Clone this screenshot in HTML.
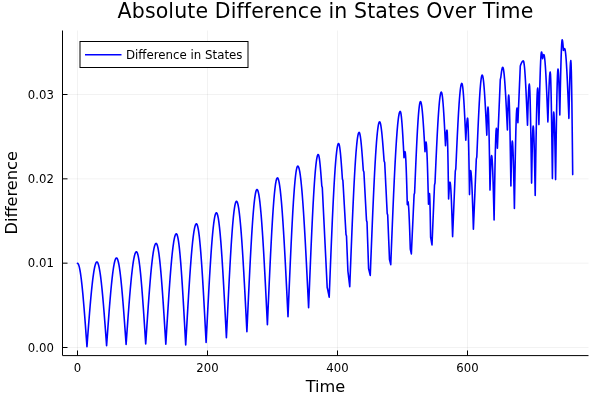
<!DOCTYPE html>
<html><head><meta charset="utf-8"><style>
html,body{margin:0;padding:0;background:#fff;}
svg{display:block;}
text{font-family:'DejaVu Sans','Liberation Sans',sans-serif;fill:#000;}
</style></head><body>
<svg style="will-change:transform" width="600" height="400" viewBox="0 0 600 400">
<rect width="600" height="400" fill="#fff"/>
<g stroke="#000" stroke-opacity="0.1" stroke-width="0.5" fill="none">
<line x1="77.5" y1="30.5" x2="77.5" y2="355.5"/>
<line x1="207.5" y1="30.5" x2="207.5" y2="355.5"/>
<line x1="337.5" y1="30.5" x2="337.5" y2="355.5"/>
<line x1="467.5" y1="30.5" x2="467.5" y2="355.5"/>
<line x1="62.5" y1="347.5" x2="588.5" y2="347.5"/>
<line x1="62.5" y1="263.17" x2="588.5" y2="263.17"/>
<line x1="62.5" y1="178.83" x2="588.5" y2="178.83"/>
<line x1="62.5" y1="94.5" x2="588.5" y2="94.5"/>
</g>
<g stroke="#000" stroke-width="1" fill="none">
<line x1="62.5" y1="30.5" x2="62.5" y2="355.5"/>
<line x1="62.5" y1="355.6" x2="588.5" y2="355.6"/>
<line x1="77.5" y1="355.5" x2="77.5" y2="350.5"/>
<line x1="207.5" y1="355.5" x2="207.5" y2="350.5"/>
<line x1="337.5" y1="355.5" x2="337.5" y2="350.5"/>
<line x1="467.5" y1="355.5" x2="467.5" y2="350.5"/>
<line x1="62.5" y1="347.5" x2="67.5" y2="347.5"/>
<line x1="62.5" y1="263.17" x2="67.5" y2="263.17"/>
<line x1="62.5" y1="178.83" x2="67.5" y2="178.83"/>
<line x1="62.5" y1="94.5" x2="67.5" y2="94.5"/>
</g>
<path d="M77.50,263.30 L77.81,263.41 L78.13,263.76 L78.44,264.33 L78.76,265.12 L79.08,266.14 L79.39,267.38 L79.70,268.83 L80.02,270.50 L80.34,272.38 L80.65,274.46 L80.97,276.74 L81.28,279.21 L81.59,281.86 L81.91,284.70 L82.22,287.70 L82.54,290.86 L82.86,294.18 L83.17,297.64 L83.48,301.23 L83.80,304.95 L84.12,308.78 L84.43,312.72 L84.75,316.75 L85.06,320.86 L85.38,325.04 L85.69,329.28 L86.00,333.57 L86.32,337.89 L86.64,342.24 L86.95,346.60 L87.27,342.32 L87.59,338.04 L87.91,333.79 L88.23,329.57 L88.55,325.39 L88.88,321.27 L89.20,317.22 L89.52,313.24 L89.84,309.34 L90.16,305.54 L90.48,301.85 L90.80,298.27 L91.12,294.82 L91.44,291.49 L91.76,288.31 L92.09,285.28 L92.41,282.41 L92.73,279.70 L93.05,277.16 L93.37,274.80 L93.69,272.63 L94.01,270.65 L94.33,268.86 L94.65,267.27 L94.97,265.88 L95.30,264.70 L95.62,263.73 L95.94,262.98 L96.26,262.43 L96.58,262.11 L96.90,262.00 L97.21,262.11 L97.53,262.43 L97.84,262.96 L98.15,263.71 L98.46,264.67 L98.78,265.83 L99.09,267.20 L99.40,268.78 L99.72,270.54 L100.03,272.50 L100.34,274.65 L100.65,276.98 L100.97,279.49 L101.28,282.17 L101.59,285.01 L101.91,288.00 L102.22,291.15 L102.53,294.43 L102.85,297.84 L103.16,301.38 L103.47,305.03 L103.78,308.78 L104.10,312.63 L104.41,316.57 L104.72,320.57 L105.04,324.65 L105.35,328.77 L105.66,332.94 L105.97,337.14 L106.29,341.37 L106.60,345.60 L106.92,341.16 L107.24,336.74 L107.56,332.33 L107.88,327.97 L108.20,323.64 L108.52,319.38 L108.84,315.18 L109.15,311.05 L109.47,307.02 L109.79,303.09 L110.11,299.26 L110.43,295.56 L110.75,291.98 L111.07,288.54 L111.39,285.25 L111.71,282.11 L112.03,279.13 L112.35,276.33 L112.67,273.70 L112.99,271.26 L113.31,269.01 L113.63,266.95 L113.95,265.10 L114.26,263.45 L114.58,262.02 L114.90,260.80 L115.22,259.79 L115.54,259.01 L115.86,258.45 L116.18,258.11 L116.50,258.00 L116.82,258.12 L117.14,258.47 L117.46,259.06 L117.78,259.89 L118.10,260.94 L118.42,262.23 L118.74,263.74 L119.06,265.47 L119.38,267.42 L119.70,269.58 L120.02,271.94 L120.34,274.50 L120.66,277.25 L120.98,280.19 L121.30,283.31 L121.62,286.59 L121.94,290.03 L122.26,293.62 L122.58,297.34 L122.90,301.20 L123.22,305.18 L123.54,309.26 L123.86,313.44 L124.18,317.70 L124.50,322.04 L124.82,326.44 L125.14,330.88 L125.46,335.37 L125.78,339.88 L126.10,344.40 L126.42,339.86 L126.74,335.32 L127.07,330.81 L127.39,326.33 L127.71,321.90 L128.03,317.52 L128.35,313.20 L128.68,308.96 L129.00,304.81 L129.32,300.75 L129.64,296.79 L129.96,292.95 L130.28,289.24 L130.61,285.66 L130.93,282.21 L131.25,278.92 L131.57,275.79 L131.89,272.82 L132.22,270.02 L132.54,267.41 L132.86,264.97 L133.18,262.73 L133.50,260.69 L133.82,258.85 L134.15,257.21 L134.47,255.79 L134.79,254.58 L135.11,253.58 L135.43,252.80 L135.76,252.25 L136.08,251.91 L136.40,251.80 L136.72,251.94 L137.04,252.34 L137.36,253.01 L137.68,253.95 L138.00,255.16 L138.32,256.62 L138.64,258.34 L138.97,260.31 L139.29,262.53 L139.61,264.98 L139.93,267.67 L140.25,270.58 L140.57,273.70 L140.89,277.04 L141.21,280.56 L141.53,284.28 L141.85,288.16 L142.17,292.21 L142.49,296.42 L142.81,300.76 L143.13,305.23 L143.46,309.81 L143.78,314.49 L144.10,319.26 L144.42,324.10 L144.74,329.00 L145.06,333.94 L145.38,338.91 L145.70,343.90 L146.02,339.12 L146.33,334.35 L146.65,329.60 L146.96,324.88 L147.28,320.21 L147.59,315.59 L147.91,311.03 L148.22,306.55 L148.54,302.15 L148.85,297.85 L149.17,293.65 L149.48,289.57 L149.80,285.60 L150.11,281.78 L150.43,278.09 L150.74,274.55 L151.06,271.16 L151.37,267.95 L151.69,264.90 L152.00,262.04 L152.32,259.35 L152.63,256.86 L152.95,254.57 L153.26,252.48 L153.58,250.60 L153.89,248.93 L154.21,247.47 L154.52,246.23 L154.84,245.22 L155.15,244.42 L155.47,243.86 L155.78,243.51 L156.10,243.40 L156.41,243.53 L156.73,243.92 L157.04,244.56 L157.35,245.46 L157.66,246.61 L157.98,248.02 L158.29,249.67 L158.60,251.56 L158.92,253.69 L159.23,256.05 L159.54,258.64 L159.85,261.45 L160.17,264.47 L160.48,267.69 L160.79,271.11 L161.11,274.72 L161.42,278.51 L161.73,282.46 L162.05,286.57 L162.36,290.83 L162.67,295.23 L162.98,299.75 L163.30,304.39 L163.61,309.13 L163.92,313.95 L164.24,318.86 L164.55,323.83 L164.86,328.85 L165.17,333.91 L165.49,339.00 L165.80,344.10 L166.12,338.85 L166.44,333.62 L166.75,328.40 L167.07,323.23 L167.39,318.10 L167.71,313.02 L168.03,308.02 L168.35,303.11 L168.66,298.28 L168.98,293.56 L169.30,288.95 L169.62,284.47 L169.94,280.12 L170.25,275.92 L170.57,271.87 L170.89,267.98 L171.21,264.27 L171.53,260.74 L171.85,257.40 L172.16,254.25 L172.48,251.31 L172.80,248.58 L173.12,246.06 L173.44,243.77 L173.75,241.70 L174.07,239.87 L174.39,238.27 L174.71,236.91 L175.03,235.79 L175.35,234.92 L175.66,234.30 L175.98,233.92 L176.30,233.80 L176.61,233.95 L176.93,234.41 L177.24,235.17 L177.55,236.23 L177.87,237.59 L178.18,239.24 L178.49,241.18 L178.81,243.41 L179.12,245.91 L179.43,248.68 L179.75,251.72 L180.06,255.02 L180.37,258.56 L180.69,262.34 L181.00,266.34 L181.31,270.56 L181.63,274.98 L181.94,279.60 L182.25,284.39 L182.57,289.35 L182.88,294.46 L183.19,299.71 L183.51,305.09 L183.82,310.57 L184.13,316.15 L184.45,321.80 L184.76,327.52 L185.07,333.29 L185.39,339.09 L185.70,344.90 L186.01,339.31 L186.33,333.73 L186.64,328.17 L186.96,322.65 L187.27,317.17 L187.59,311.76 L187.90,306.42 L188.22,301.15 L188.53,295.99 L188.85,290.92 L189.16,285.97 L189.48,281.15 L189.79,276.46 L190.11,271.92 L190.42,267.54 L190.74,263.32 L191.05,259.27 L191.36,255.41 L191.68,251.73 L191.99,248.26 L192.31,244.99 L192.62,241.94 L192.94,239.10 L193.25,236.50 L193.57,234.12 L193.88,231.98 L194.20,230.08 L194.51,228.42 L194.83,227.02 L195.14,225.86 L195.46,224.96 L195.77,224.32 L196.09,223.93 L196.40,223.80 L196.71,223.95 L197.03,224.41 L197.34,225.17 L197.65,226.23 L197.96,227.59 L198.28,229.24 L198.59,231.18 L198.90,233.41 L199.22,235.92 L199.53,238.70 L199.84,241.75 L200.15,245.06 L200.47,248.61 L200.78,252.41 L201.09,256.44 L201.41,260.69 L201.72,265.15 L202.03,269.80 L202.35,274.65 L202.66,279.66 L202.97,284.84 L203.28,290.17 L203.60,295.63 L203.91,301.21 L204.22,306.90 L204.54,312.67 L204.85,318.53 L205.16,324.44 L205.47,330.40 L205.79,336.39 L206.10,342.40 L206.42,336.04 L206.74,329.70 L207.07,323.38 L207.39,317.12 L207.71,310.91 L208.03,304.78 L208.35,298.74 L208.68,292.80 L209.00,286.99 L209.32,281.31 L209.64,275.77 L209.96,270.40 L210.28,265.20 L210.61,260.18 L210.93,255.37 L211.25,250.76 L211.57,246.37 L211.89,242.22 L212.22,238.30 L212.54,234.64 L212.86,231.24 L213.18,228.10 L213.50,225.24 L213.82,222.67 L214.15,220.38 L214.47,218.38 L214.79,216.68 L215.11,215.29 L215.43,214.20 L215.76,213.42 L216.08,212.96 L216.40,212.80 L216.71,212.95 L217.03,213.40 L217.34,214.15 L217.65,215.20 L217.96,216.55 L218.28,218.18 L218.59,220.11 L218.90,222.32 L219.21,224.80 L219.53,227.56 L219.84,230.58 L220.15,233.87 L220.46,237.40 L220.78,241.17 L221.09,245.18 L221.40,249.41 L221.71,253.86 L222.03,258.50 L222.34,263.34 L222.65,268.35 L222.96,273.54 L223.28,278.88 L223.59,284.36 L223.90,289.96 L224.21,295.69 L224.53,301.51 L224.84,307.43 L225.15,313.41 L225.46,319.46 L225.78,325.55 L226.09,331.67 L226.40,337.80 L226.72,331.10 L227.03,324.42 L227.35,317.77 L227.66,311.17 L227.98,304.63 L228.29,298.18 L228.61,291.81 L228.93,285.56 L229.24,279.44 L229.56,273.45 L229.87,267.62 L230.19,261.96 L230.50,256.49 L230.82,251.21 L231.13,246.13 L231.45,241.28 L231.77,236.66 L232.08,232.28 L232.40,228.16 L232.71,224.30 L233.03,220.72 L233.34,217.42 L233.66,214.41 L233.97,211.69 L234.29,209.28 L234.61,207.18 L234.92,205.39 L235.24,203.92 L235.55,202.78 L235.87,201.96 L236.18,201.46 L236.50,201.30 L236.82,201.45 L237.13,201.89 L237.45,202.63 L237.76,203.65 L238.08,204.97 L238.39,206.58 L238.71,208.47 L239.02,210.63 L239.34,213.07 L239.65,215.78 L239.97,218.76 L240.28,221.98 L240.60,225.46 L240.91,229.18 L241.23,233.13 L241.54,237.30 L241.86,241.68 L242.17,246.27 L242.49,251.05 L242.80,256.02 L243.12,261.15 L243.43,266.45 L243.75,271.89 L244.06,277.47 L244.38,283.17 L244.69,288.98 L245.01,294.89 L245.32,300.88 L245.64,306.94 L245.95,313.06 L246.27,319.21 L246.58,325.40 L246.90,331.60 L247.22,324.63 L247.53,317.67 L247.85,310.75 L248.16,303.88 L248.48,297.07 L248.79,290.35 L249.11,283.73 L249.43,277.22 L249.74,270.84 L250.06,264.61 L250.37,258.55 L250.69,252.65 L251.00,246.95 L251.32,241.45 L251.63,236.17 L251.95,231.12 L252.27,226.31 L252.58,221.76 L252.90,217.46 L253.21,213.45 L253.53,209.72 L253.84,206.28 L254.16,203.14 L254.47,200.32 L254.79,197.81 L255.11,195.62 L255.42,193.76 L255.74,192.23 L256.05,191.04 L256.37,190.18 L256.68,189.67 L257.00,189.50 L257.32,189.65 L257.63,190.11 L257.95,190.88 L258.26,191.94 L258.58,193.31 L258.89,194.97 L259.21,196.93 L259.52,199.18 L259.84,201.71 L260.15,204.52 L260.47,207.60 L260.78,210.95 L261.10,214.55 L261.41,218.40 L261.73,222.50 L262.04,226.82 L262.36,231.37 L262.67,236.13 L262.99,241.09 L263.30,246.23 L263.62,251.56 L263.93,257.05 L264.25,262.69 L264.56,268.48 L264.88,274.39 L265.19,280.41 L265.51,286.54 L265.82,292.75 L266.14,299.03 L266.45,305.37 L266.77,311.76 L267.08,318.17 L267.40,324.60 L267.71,317.40 L268.02,310.22 L268.34,303.07 L268.65,295.98 L268.96,288.95 L269.27,282.02 L269.59,275.18 L269.90,268.46 L270.21,261.88 L270.52,255.45 L270.84,249.18 L271.15,243.10 L271.46,237.21 L271.77,231.53 L272.09,226.08 L272.40,220.87 L272.71,215.90 L273.02,211.20 L273.34,206.77 L273.65,202.62 L273.96,198.77 L274.27,195.22 L274.59,191.98 L274.90,189.07 L275.21,186.48 L275.52,184.22 L275.84,182.30 L276.15,180.72 L276.46,179.49 L276.77,178.61 L277.09,178.08 L277.40,177.90 L277.72,178.06 L278.04,178.53 L278.36,179.31 L278.68,180.41 L279.01,181.81 L279.33,183.52 L279.65,185.53 L279.97,187.84 L280.29,190.43 L280.61,193.32 L280.93,196.48 L281.25,199.92 L281.58,203.62 L281.90,207.57 L282.22,211.78 L282.54,216.22 L282.86,220.89 L283.18,225.77 L283.50,230.86 L283.82,236.15 L284.15,241.61 L284.47,247.25 L284.79,253.04 L285.11,258.98 L285.43,265.05 L285.75,271.24 L286.07,277.52 L286.39,283.90 L286.72,290.35 L287.04,296.86 L287.36,303.42 L287.68,310.00 L288.00,316.60 L288.32,308.98 L288.63,301.37 L288.95,293.81 L289.26,286.30 L289.58,278.88 L289.90,271.55 L290.21,264.33 L290.53,257.25 L290.85,250.32 L291.16,243.56 L291.48,236.99 L291.79,230.62 L292.11,224.48 L292.43,218.57 L292.74,212.91 L293.06,207.52 L293.37,202.41 L293.69,197.59 L294.01,193.08 L294.32,188.88 L294.64,185.01 L294.95,181.48 L295.27,178.30 L295.59,175.47 L295.90,173.00 L296.22,170.90 L296.54,169.18 L296.85,167.84 L297.17,166.87 L297.48,166.29 L297.80,166.10 L298.12,166.25 L298.44,166.70 L298.75,167.46 L299.07,168.51 L299.39,169.86 L299.71,171.50 L300.02,173.44 L300.34,175.66 L300.66,178.16 L300.98,180.93 L301.29,183.98 L301.61,187.29 L301.93,190.86 L302.25,194.68 L302.56,198.74 L302.88,203.03 L303.20,207.54 L303.52,212.27 L303.84,217.20 L304.15,222.33 L304.47,227.63 L304.79,233.11 L305.11,238.75 L305.42,244.53 L305.74,250.45 L306.06,256.48 L306.38,262.63 L306.69,268.88 L307.01,275.20 L307.33,281.60 L307.65,288.05 L307.96,294.54 L308.28,301.07 L308.60,307.60 L308.92,299.59 L309.24,291.60 L309.56,283.65 L309.88,275.77 L310.20,267.97 L310.52,260.29 L310.84,252.73 L311.16,245.33 L311.48,238.09 L311.80,231.05 L312.12,224.22 L312.44,217.61 L312.76,211.25 L313.08,205.16 L313.40,199.34 L313.72,193.82 L314.04,188.62 L314.36,183.74 L314.68,179.20 L315.00,175.01 L315.32,171.19 L315.64,167.74 L315.96,164.67 L316.28,161.99 L316.60,159.72 L316.92,157.85 L317.24,156.38 L317.56,155.34 L317.88,154.71 L318.20,154.50 L318.50,154.77 L318.80,155.57 L319.10,156.90 L319.40,158.72 L319.70,161.01 L320.00,163.73 L320.30,166.82 L320.60,170.25 L320.90,173.95 L321.20,177.85 L321.50,181.89 L321.80,186.00 L321.97,186.50 L322.13,187.00 L322.30,187.50 L322.61,193.75 L322.91,200.00 L323.22,206.25 L323.52,212.50 L323.83,218.75 L324.14,225.00 L324.44,231.25 L324.75,237.50 L325.06,243.75 L325.36,250.00 L325.67,256.25 L325.98,262.50 L326.28,268.75 L326.59,275.00 L326.89,281.25 L327.20,287.50 L327.33,288.00 L327.47,288.50 L327.60,289.00 L327.87,290.37 L328.13,291.73 L328.40,293.10 L328.67,294.47 L328.93,295.83 L329.20,297.20 L329.51,289.16 L329.83,281.13 L330.14,273.16 L330.45,265.24 L330.77,257.42 L331.08,249.70 L331.39,242.12 L331.71,234.68 L332.02,227.42 L332.33,220.35 L332.65,213.49 L332.96,206.86 L333.27,200.47 L333.59,194.35 L333.90,188.52 L334.21,182.98 L334.53,177.75 L334.84,172.85 L335.15,168.30 L335.47,164.09 L335.78,160.25 L336.09,156.79 L336.41,153.71 L336.72,151.02 L337.03,148.74 L337.35,146.86 L337.66,145.39 L337.97,144.34 L338.29,143.71 L338.60,143.50 L338.89,143.76 L339.18,144.53 L339.48,145.81 L339.77,147.57 L340.06,149.78 L340.35,152.43 L340.65,155.46 L340.94,158.83 L341.23,162.50 L341.52,166.41 L341.82,170.50 L342.11,174.72 L342.40,179.00 L342.57,179.50 L342.73,180.00 L342.90,180.50 L343.18,185.41 L343.46,190.32 L343.75,195.23 L344.03,200.14 L344.31,205.05 L344.59,209.95 L344.87,214.86 L345.15,219.77 L345.44,224.68 L345.72,229.59 L346.00,234.50 L346.17,235.00 L346.33,235.50 L346.50,236.00 L346.73,241.83 L346.97,247.67 L347.20,253.50 L347.43,259.33 L347.67,265.17 L347.90,271.00 L348.16,273.23 L348.43,275.46 L348.69,277.69 L348.96,279.91 L349.22,282.14 L349.49,284.37 L349.75,286.60 L350.06,278.53 L350.37,270.48 L350.69,262.48 L351.00,254.54 L351.31,246.69 L351.62,238.95 L351.93,231.34 L352.24,223.88 L352.56,216.59 L352.87,209.50 L353.18,202.62 L353.49,195.96 L353.80,189.56 L354.11,183.42 L354.43,177.56 L354.74,172.01 L355.05,166.76 L355.36,161.85 L355.67,157.28 L355.98,153.06 L356.30,149.21 L356.61,145.73 L356.92,142.64 L357.23,139.95 L357.54,137.65 L357.85,135.77 L358.17,134.30 L358.48,133.24 L358.79,132.61 L359.10,132.40 L359.40,132.64 L359.70,133.36 L360.00,134.54 L360.30,136.17 L360.60,138.24 L360.90,140.71 L361.20,143.56 L361.50,146.75 L361.80,150.23 L362.10,153.97 L362.40,157.92 L362.70,162.02 L363.00,166.23 L363.30,170.50 L363.50,171.00 L363.70,171.50 L363.90,172.00 L364.19,177.39 L364.48,182.78 L364.77,188.17 L365.06,193.56 L365.34,198.94 L365.63,204.33 L365.92,209.72 L366.21,215.11 L366.50,220.50 L366.67,221.00 L366.83,221.50 L367.00,222.00 L367.27,229.77 L367.53,237.53 L367.80,245.30 L368.07,253.07 L368.33,260.83 L368.60,268.60 L368.88,269.73 L369.15,270.87 L369.43,272.00 L369.70,273.13 L369.98,274.27 L370.25,275.40 L370.56,267.36 L370.87,259.34 L371.19,251.37 L371.50,243.46 L371.81,235.65 L372.12,227.93 L372.43,220.35 L372.74,212.93 L373.06,205.67 L373.37,198.60 L373.68,191.74 L373.99,185.12 L374.30,178.74 L374.61,172.62 L374.93,166.79 L375.24,161.25 L375.55,156.03 L375.86,151.13 L376.17,146.58 L376.48,142.38 L376.80,138.54 L377.11,135.08 L377.42,132.00 L377.73,129.32 L378.04,127.03 L378.35,125.16 L378.67,123.69 L378.98,122.64 L379.29,122.01 L379.60,121.80 L379.90,122.01 L380.20,122.66 L380.50,123.72 L380.80,125.19 L381.10,127.05 L381.40,129.29 L381.70,131.87 L382.00,134.77 L382.30,137.96 L382.60,141.40 L382.90,145.06 L383.20,148.89 L383.50,152.85 L383.80,156.90 L384.10,161.00 L384.30,161.50 L384.50,162.00 L384.70,162.50 L384.98,168.17 L385.26,173.83 L385.53,179.50 L385.81,185.17 L386.09,190.83 L386.37,196.50 L386.64,202.17 L386.92,207.83 L387.20,213.50 L387.37,214.00 L387.53,214.50 L387.70,215.00 L387.96,221.37 L388.21,227.74 L388.47,234.11 L388.73,240.49 L388.99,246.86 L389.24,253.23 L389.50,259.60 L389.75,260.60 L390.00,261.60 L390.25,262.60 L390.50,263.60 L390.75,264.60 L391.06,256.58 L391.38,248.59 L391.69,240.63 L392.01,232.75 L392.32,224.95 L392.64,217.26 L392.95,209.70 L393.27,202.29 L393.58,195.05 L393.90,188.00 L394.21,181.16 L394.53,174.55 L394.84,168.19 L395.16,162.09 L395.48,156.27 L395.79,150.75 L396.11,145.54 L396.42,140.66 L396.74,136.12 L397.05,131.92 L397.37,128.10 L397.68,124.64 L398.00,121.58 L398.31,118.90 L398.62,116.62 L398.94,114.75 L399.25,113.29 L399.57,112.24 L399.88,111.61 L400.20,111.40 L400.49,111.74 L400.78,112.74 L401.08,114.40 L401.37,116.69 L401.66,119.58 L401.95,123.02 L402.25,126.96 L402.54,131.36 L402.83,136.13 L403.12,141.22 L403.42,146.54 L403.71,152.03 L404.00,157.60 L404.20,155.75 L404.40,154.07 L404.60,152.75 L404.80,151.89 L405.00,151.60 L405.29,152.62 L405.57,155.63 L405.86,160.53 L406.15,167.12 L406.44,175.15 L406.73,184.32 L407.01,194.26 L407.30,204.60 L407.50,203.10 L407.70,202.00 L407.90,201.60 L408.17,202.32 L408.43,204.46 L408.70,207.95 L408.97,212.69 L409.23,218.53 L409.50,225.30 L409.77,232.79 L410.03,240.77 L410.30,249.00 L410.51,249.98 L410.72,250.96 L410.93,251.94 L411.14,252.92 L411.35,253.90 L411.62,247.96 L411.90,242.02 L412.18,236.08 L412.45,230.14 L412.73,224.20 L413.00,218.26 L413.28,212.32 L413.55,206.38 L413.83,200.44 L414.10,194.50 L414.27,194.00 L414.43,193.50 L414.60,193.00 L414.91,185.45 L415.22,177.96 L415.53,170.56 L415.84,163.32 L416.15,156.29 L416.46,149.50 L416.77,143.01 L417.08,136.86 L417.39,131.10 L417.71,125.75 L418.02,120.87 L418.33,116.48 L418.64,112.62 L418.95,109.30 L419.26,106.55 L419.57,104.40 L419.88,102.85 L420.19,101.91 L420.50,101.60 L420.80,101.87 L421.10,102.69 L421.40,104.05 L421.70,105.92 L422.00,108.30 L422.30,111.15 L422.60,114.44 L422.90,118.14 L423.20,122.21 L423.50,126.60 L423.80,131.26 L424.10,136.15 L424.40,141.20 L424.70,146.37 L425.00,151.60 L425.20,148.66 L425.40,146.02 L425.60,143.91 L425.80,142.56 L426.00,142.10 L426.28,143.04 L426.56,145.85 L426.83,150.43 L427.11,156.65 L427.39,164.32 L427.67,173.20 L427.94,183.03 L428.22,193.50 L428.50,204.30 L428.70,200.99 L428.90,198.01 L429.10,195.64 L429.30,194.12 L429.50,193.60 L429.72,195.72 L429.94,201.89 L430.16,211.49 L430.38,223.59 L430.60,237.00 L430.83,238.32 L431.07,239.63 L431.30,240.95 L431.53,242.27 L431.77,243.58 L432.00,244.90 L432.28,238.24 L432.56,231.59 L432.83,224.93 L433.11,218.28 L433.39,211.62 L433.67,204.97 L433.94,198.31 L434.22,191.66 L434.50,185.00 L434.67,184.33 L434.83,183.67 L435.00,183.00 L435.31,175.87 L435.63,168.78 L435.94,161.78 L436.26,154.91 L436.57,148.21 L436.89,141.73 L437.20,135.50 L437.52,129.57 L437.83,123.97 L438.15,118.72 L438.47,113.88 L438.78,109.46 L439.10,105.50 L439.41,102.01 L439.73,99.02 L440.04,96.55 L440.36,94.61 L440.67,93.22 L440.99,92.38 L441.30,92.10 L441.60,92.44 L441.90,93.44 L442.20,95.10 L442.50,97.40 L442.80,100.30 L443.10,103.77 L443.40,107.77 L443.70,112.24 L444.00,117.14 L444.30,122.39 L444.60,127.93 L444.90,133.70 L445.20,139.61 L445.50,145.60 L445.75,141.59 L446.00,137.85 L446.25,134.64 L446.50,132.18 L446.75,130.63 L447.00,130.10 L447.27,132.45 L447.53,139.33 L447.80,150.28 L448.07,164.55 L448.33,181.17 L448.60,199.00 L448.83,194.65 L449.07,190.60 L449.30,187.12 L449.53,184.45 L449.77,182.77 L450.00,182.20 L450.29,183.03 L450.58,185.48 L450.87,189.49 L451.16,194.93 L451.44,201.63 L451.73,209.40 L452.02,217.99 L452.31,227.15 L452.60,236.60 L452.87,230.04 L453.14,223.48 L453.41,216.92 L453.68,210.36 L453.95,203.80 L454.22,197.24 L454.49,190.68 L454.76,184.12 L455.03,177.56 L455.30,171.00 L455.47,170.33 L455.63,169.67 L455.80,169.00 L456.10,162.28 L456.40,155.61 L456.70,149.02 L457.00,142.55 L457.30,136.24 L457.60,130.14 L457.90,124.27 L458.20,118.69 L458.50,113.41 L458.80,108.47 L459.10,103.91 L459.40,99.75 L459.70,96.01 L460.00,92.73 L460.30,89.92 L460.60,87.59 L460.90,85.77 L461.20,84.45 L461.50,83.66 L461.80,83.40 L462.09,83.76 L462.37,84.82 L462.66,86.58 L462.94,89.02 L463.23,92.09 L463.51,95.77 L463.80,100.01 L464.09,104.75 L464.37,109.93 L464.66,115.50 L464.94,121.37 L465.23,127.48 L465.51,133.75 L465.80,140.10 L466.06,135.20 L466.31,130.55 L466.57,126.38 L466.83,122.90 L467.09,120.28 L467.34,118.65 L467.60,118.10 L467.87,120.02 L468.14,125.68 L468.41,134.79 L468.69,146.90 L468.96,161.41 L469.23,177.58 L469.50,194.60 L469.72,187.18 L469.94,180.49 L470.16,175.18 L470.38,171.77 L470.60,170.60 L470.88,171.32 L471.16,173.47 L471.44,176.99 L471.72,181.79 L472.00,187.76 L472.28,194.76 L472.56,202.60 L472.84,211.09 L473.12,220.03 L473.40,229.20 L473.69,222.18 L473.98,215.16 L474.27,208.14 L474.56,201.12 L474.85,194.10 L475.14,187.08 L475.43,180.06 L475.72,173.04 L476.01,166.02 L476.30,159.00 L476.47,158.33 L476.63,157.67 L476.80,157.00 L477.10,149.86 L477.40,142.78 L477.70,135.80 L478.00,128.99 L478.30,122.39 L478.60,116.05 L478.90,110.02 L479.20,104.36 L479.50,99.09 L479.80,94.26 L480.10,89.91 L480.40,86.07 L480.70,82.77 L481.00,80.04 L481.30,77.89 L481.60,76.34 L481.90,75.41 L482.20,75.10 L482.51,75.43 L482.81,76.41 L483.12,78.04 L483.43,80.29 L483.73,83.14 L484.04,86.56 L484.35,90.51 L484.65,94.95 L484.96,99.83 L485.27,105.10 L485.57,110.70 L485.88,116.56 L486.19,122.63 L486.49,128.83 L486.80,135.10 L487.04,126.45 L487.28,118.64 L487.52,112.45 L487.76,108.47 L488.00,107.10 L488.25,108.69 L488.50,113.42 L488.75,121.09 L489.00,131.41 L489.25,143.99 L489.50,158.34 L489.75,173.91 L490.00,190.10 L490.27,181.17 L490.53,172.85 L490.80,165.70 L491.07,160.22 L491.33,156.78 L491.60,155.60 L491.88,156.58 L492.16,159.48 L492.43,164.21 L492.71,170.64 L492.99,178.57 L493.27,187.75 L493.54,197.91 L493.82,208.73 L494.10,219.90 L494.39,202.05 L494.68,184.88 L494.96,169.07 L495.25,155.20 L495.54,143.82 L495.82,135.37 L496.11,130.16 L496.40,128.40 L496.60,129.36 L496.80,132.16 L497.00,136.52 L497.20,142.01 L497.40,148.10 L497.69,141.24 L497.98,134.38 L498.27,127.52 L498.56,120.66 L498.85,113.80 L499.14,106.94 L499.43,100.08 L499.72,93.22 L500.01,86.36 L500.30,79.50 L500.47,78.83 L500.63,78.17 L500.80,77.50 L501.07,75.23 L501.34,73.07 L501.61,71.14 L501.89,69.53 L502.16,68.31 L502.43,67.56 L502.70,67.30 L502.99,67.60 L503.29,68.50 L503.58,70.00 L503.88,72.07 L504.17,74.70 L504.46,77.87 L504.76,81.53 L505.05,85.66 L505.34,90.22 L505.64,95.17 L505.93,100.44 L506.22,106.01 L506.52,111.80 L506.81,117.77 L507.11,123.85 L507.40,130.00 L507.66,119.22 L507.92,109.49 L508.18,101.77 L508.44,96.81 L508.70,95.10 L508.97,96.84 L509.25,102.01 L509.52,110.40 L509.80,121.69 L510.07,135.45 L510.35,151.15 L510.62,168.19 L510.90,185.90 L511.13,174.30 L511.37,163.50 L511.60,154.22 L511.83,147.10 L512.07,142.63 L512.30,141.10 L512.56,142.39 L512.82,146.22 L513.09,152.44 L513.35,160.81 L513.61,171.01 L513.88,182.65 L514.14,195.27 L514.40,208.40 L514.69,190.98 L514.98,174.10 L515.27,158.25 L515.56,143.93 L515.84,131.57 L516.13,121.54 L516.42,114.15 L516.71,109.62 L517.00,108.10 L517.23,109.20 L517.45,112.35 L517.67,117.05 L517.90,122.60 L518.17,116.31 L518.43,110.02 L518.70,103.73 L518.97,97.44 L519.23,91.16 L519.50,84.87 L519.77,78.58 L520.03,72.29 L520.30,66.00 L520.47,65.50 L520.63,65.00 L520.80,64.50 L521.08,63.87 L521.36,63.27 L521.63,62.70 L521.91,62.19 L522.19,61.74 L522.47,61.38 L522.74,61.12 L523.02,60.95 L523.30,60.90 L523.60,61.30 L523.90,62.51 L524.20,64.51 L524.50,67.28 L524.80,70.77 L525.10,74.95 L525.40,79.76 L525.70,85.15 L526.00,91.04 L526.30,97.36 L526.60,104.03 L526.90,110.97 L527.20,118.09 L527.50,125.30 L527.76,116.13 L528.01,107.42 L528.27,99.61 L528.53,93.09 L528.79,88.18 L529.04,85.13 L529.30,84.10 L529.59,86.00 L529.88,91.64 L530.16,100.78 L530.45,113.10 L530.74,128.10 L531.02,145.21 L531.31,163.79 L531.60,183.10 L531.87,168.35 L532.13,154.60 L532.40,142.79 L532.67,133.74 L532.93,128.04 L533.20,126.10 L533.45,127.43 L533.70,131.38 L533.95,137.78 L534.20,146.40 L534.45,156.90 L534.70,168.88 L534.95,181.88 L535.20,195.40 L535.48,176.77 L535.76,158.70 L536.03,141.75 L536.31,126.43 L536.59,113.20 L536.87,102.48 L537.14,94.57 L537.42,89.73 L537.70,88.10 L537.94,89.89 L538.18,95.07 L538.42,103.15 L538.66,113.32 L538.90,124.60 L539.19,111.99 L539.48,99.77 L539.77,88.30 L540.06,77.93 L540.34,68.99 L540.63,61.73 L540.92,56.38 L541.21,53.10 L541.50,52.00 L541.72,52.32 L541.94,53.26 L542.16,54.72 L542.38,56.56 L542.60,58.60 L542.84,57.36 L543.08,56.25 L543.32,55.36 L543.56,54.80 L543.80,54.60 L544.09,55.02 L544.39,56.29 L544.68,58.38 L544.97,61.26 L545.26,64.92 L545.56,69.28 L545.85,74.31 L546.14,79.94 L546.44,86.09 L546.73,92.70 L547.02,99.67 L547.31,106.92 L547.61,114.36 L547.90,121.90 L548.19,112.18 L548.48,102.84 L548.76,94.23 L549.05,86.69 L549.34,80.49 L549.62,75.89 L549.91,73.06 L550.20,72.10 L550.48,74.15 L550.75,80.21 L551.02,90.05 L551.30,103.29 L551.58,119.43 L551.85,137.84 L552.12,157.82 L552.40,178.60 L552.66,158.05 L552.92,139.51 L553.18,124.80 L553.44,115.35 L553.70,112.10 L553.97,113.79 L554.24,118.78 L554.51,126.83 L554.79,137.51 L555.06,150.31 L555.33,164.58 L555.60,179.60 L555.87,160.41 L556.13,141.81 L556.40,124.35 L556.67,108.57 L556.93,94.95 L557.20,83.90 L557.47,75.76 L557.73,70.78 L558.00,69.10 L558.26,70.25 L558.51,73.64 L558.77,79.09 L559.03,86.34 L559.29,95.03 L559.54,104.71 L559.80,114.90 L560.07,101.86 L560.33,89.21 L560.60,77.35 L560.87,66.63 L561.13,57.37 L561.40,49.86 L561.67,44.33 L561.93,40.94 L562.20,39.80 L562.44,40.32 L562.68,41.82 L562.92,44.17 L563.16,47.12 L563.40,50.40 L563.64,49.84 L563.88,49.34 L564.12,48.94 L564.36,48.69 L564.60,48.60 L564.91,49.04 L565.21,50.35 L565.52,52.52 L565.83,55.51 L566.14,59.30 L566.44,63.83 L566.75,69.04 L567.06,74.88 L567.36,81.26 L567.67,88.11 L567.98,95.35 L568.29,102.87 L568.59,110.58 L568.90,118.40 L569.17,105.54 L569.44,93.32 L569.71,82.36 L569.99,73.21 L570.26,66.32 L570.53,62.05 L570.80,60.60 L571.07,63.46 L571.34,71.89 L571.61,85.47 L571.89,103.52 L572.16,125.14 L572.43,149.23 L572.70,174.60" fill="none" stroke="#0000ff" stroke-width="1.6" stroke-linejoin="round" stroke-linecap="round"/>
<g font-size="11.7">
<text x="77.5" y="371.5" text-anchor="middle">0</text>
<text x="207.5" y="371.5" text-anchor="middle">200</text>
<text x="337.5" y="371.5" text-anchor="middle">400</text>
<text x="467.5" y="371.5" text-anchor="middle">600</text>
<text x="53.9" y="351.7" text-anchor="end">0.00</text>
<text x="53.9" y="267.4" text-anchor="end">0.01</text>
<text x="53.9" y="183.0" text-anchor="end">0.02</text>
<text x="53.9" y="98.7" text-anchor="end">0.03</text>
</g>
<text x="325.5" y="18.3" text-anchor="middle" font-size="20.5" letter-spacing="0.115">Absolute Difference in States Over Time</text>
<text x="325.5" y="391.7" text-anchor="middle" font-size="16.2">Time</text>
<text transform="translate(16.9,192.8) rotate(-90)" text-anchor="middle" font-size="16.2">Difference</text>
<rect x="80" y="41.5" width="168" height="26" fill="#fff" stroke="#000" stroke-width="1"/>
<line x1="85" y1="54.7" x2="121.5" y2="54.7" stroke="#0000ff" stroke-width="1.6"/>
<text x="126" y="59" font-size="11.8">Difference in States</text>
</svg>
</body></html>
